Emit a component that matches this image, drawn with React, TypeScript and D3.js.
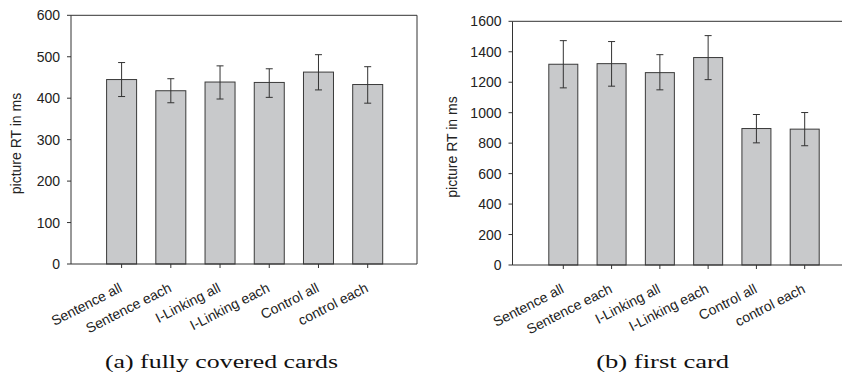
import React from "react";
import * as d3 from "d3";

const categories = ["Sentence all", "Sentence each", "I-Linking all", "I-Linking each", "Control all", "control each"];

const coveredMeans = [445, 418, 439, 438, 463, 433];
const coveredLow = [404, 389, 398, 402, 420, 388];
const coveredHigh = [486, 447, 478, 471, 505, 476];
const coveredTicks = [0, 100, 200, 300, 400, 500, 600];

const firstMeans = [1318, 1322, 1263, 1362, 896, 892];
const firstLow = [1163, 1174, 1150, 1217, 802, 783];
const firstHigh = [1473, 1467, 1381, 1506, 988, 1001];
const firstTicks = [0, 200, 400, 600, 800, 1000, 1200, 1400, 1600];

const yTitle = "picture RT in ms";
const captions = ["(a) fully covered cards", "(b) first card"];

const FONT = "'Liberation Sans', Arial, sans-serif";
const FS = 14;
const AXIS = "#333";

type PanelProps = {
  means: number[];
  low: number[];
  high: number[];
  ticks: number[];
  x0: number; x1: number; y0: number; y1: number;
  c0: number; c1: number;
  barW: number;
  titleX: number; titleY: number;
  caption: string; capX: number; capW: number;
  rightBorder: boolean;
};

function Panel(p: PanelProps) {
  const max = p.ticks[p.ticks.length - 1];
  const y = d3.scaleLinear().domain([0, max]).range([p.y1, p.y0]);
  const x = d3.scalePoint<string>().domain(categories).range([p.c0, p.c1]);
  const cap = 3.5;
  return (
    <g>
      {categories.map((c, i) => (
        <rect key={"b" + i} x={x(c)! - p.barW / 2} y={y(p.means[i])} width={p.barW} height={y(0) - y(p.means[i])}
          fill="#c8c9cb" stroke="#3a3a3a" strokeWidth={1} />
      ))}
      {categories.map((c, i) => (
        <g key={"e" + i} stroke="#333" strokeWidth={1}>
          <line x1={x(c)} x2={x(c)} y1={y(p.high[i])} y2={y(p.low[i])} />
          <line x1={x(c)! - cap} x2={x(c)! + cap} y1={y(p.high[i])} y2={y(p.high[i])} />
          <line x1={x(c)! - cap} x2={x(c)! + cap} y1={y(p.low[i])} y2={y(p.low[i])} />
        </g>
      ))}
      <line x1={p.x0} x2={p.x0} y1={p.y0} y2={p.y1} stroke={AXIS} strokeWidth={1} />
      <line x1={p.x0} x2={p.x1} y1={p.y1} y2={p.y1} stroke={AXIS} strokeWidth={1} />
      <line x1={p.x0} x2={p.x1} y1={p.y0} y2={p.y0} stroke={AXIS} strokeWidth={1} />
      {p.rightBorder && <line x1={p.x1} x2={p.x1} y1={p.y0} y2={p.y1} stroke={AXIS} strokeWidth={1} />}
      {p.ticks.map((t) => (
        <g key={"t" + t}>
          <line x1={p.x0 - 4} x2={p.x0} y1={y(t)} y2={y(t)} stroke={AXIS} />
          <text x={p.x0 - 11} y={y(t)} dy="0.36em" textAnchor="end" fontFamily={FONT} fontSize={FS} fill="#222">{t}</text>
        </g>
      ))}
      {categories.map((c, i) => (
        <g key={"x" + i}>
          <line x1={x(c)} x2={x(c)} y1={p.y1} y2={p.y1 + 4} stroke={AXIS} />
          <text transform={`translate(${x(c)! + 1.5},${p.y1 + 27}) rotate(-27)`} textAnchor="end"
            fontFamily={FONT} fontSize={FS} fill="#222">{c}</text>
        </g>
      ))}
      <text transform={`translate(${p.titleX},${p.titleY}) rotate(-90)`} textAnchor="middle"
        fontFamily={FONT} fontSize={FS} fill="#222">{yTitle}</text>
      <text x={p.capX} y={368} textAnchor="middle" fontFamily="'Liberation Serif', serif" fontSize={19}
        textLength={p.capW} lengthAdjust="spacingAndGlyphs" fill="#111">{p.caption}</text>
    </g>
  );
}

export default function App() {
  return (
    <svg width={842} height={387} style={{ position: "absolute", left: 0, top: 0, background: "#fff" }}>
      <rect width={842} height={387} fill="#fff" />
      <Panel means={coveredMeans} low={coveredLow} high={coveredHigh} ticks={coveredTicks}
        x0={71} x1={417} y0={15.3} y1={264} c0={121.6} c1={367.7} barW={30}
        titleX={21} titleY={143.5} caption={captions[0]} capX={221.5} capW={233} rightBorder={true} />
      <Panel means={firstMeans} low={firstLow} high={firstHigh} ticks={firstTicks}
        x0={512.5} x1={842} y0={21.3} y1={265} c0={563.3} c1={804.7} barW={29}
        titleX={457} titleY={147} caption={captions[1]} capX={662.7} capW={133} rightBorder={false} />
    </svg>
  );
}
